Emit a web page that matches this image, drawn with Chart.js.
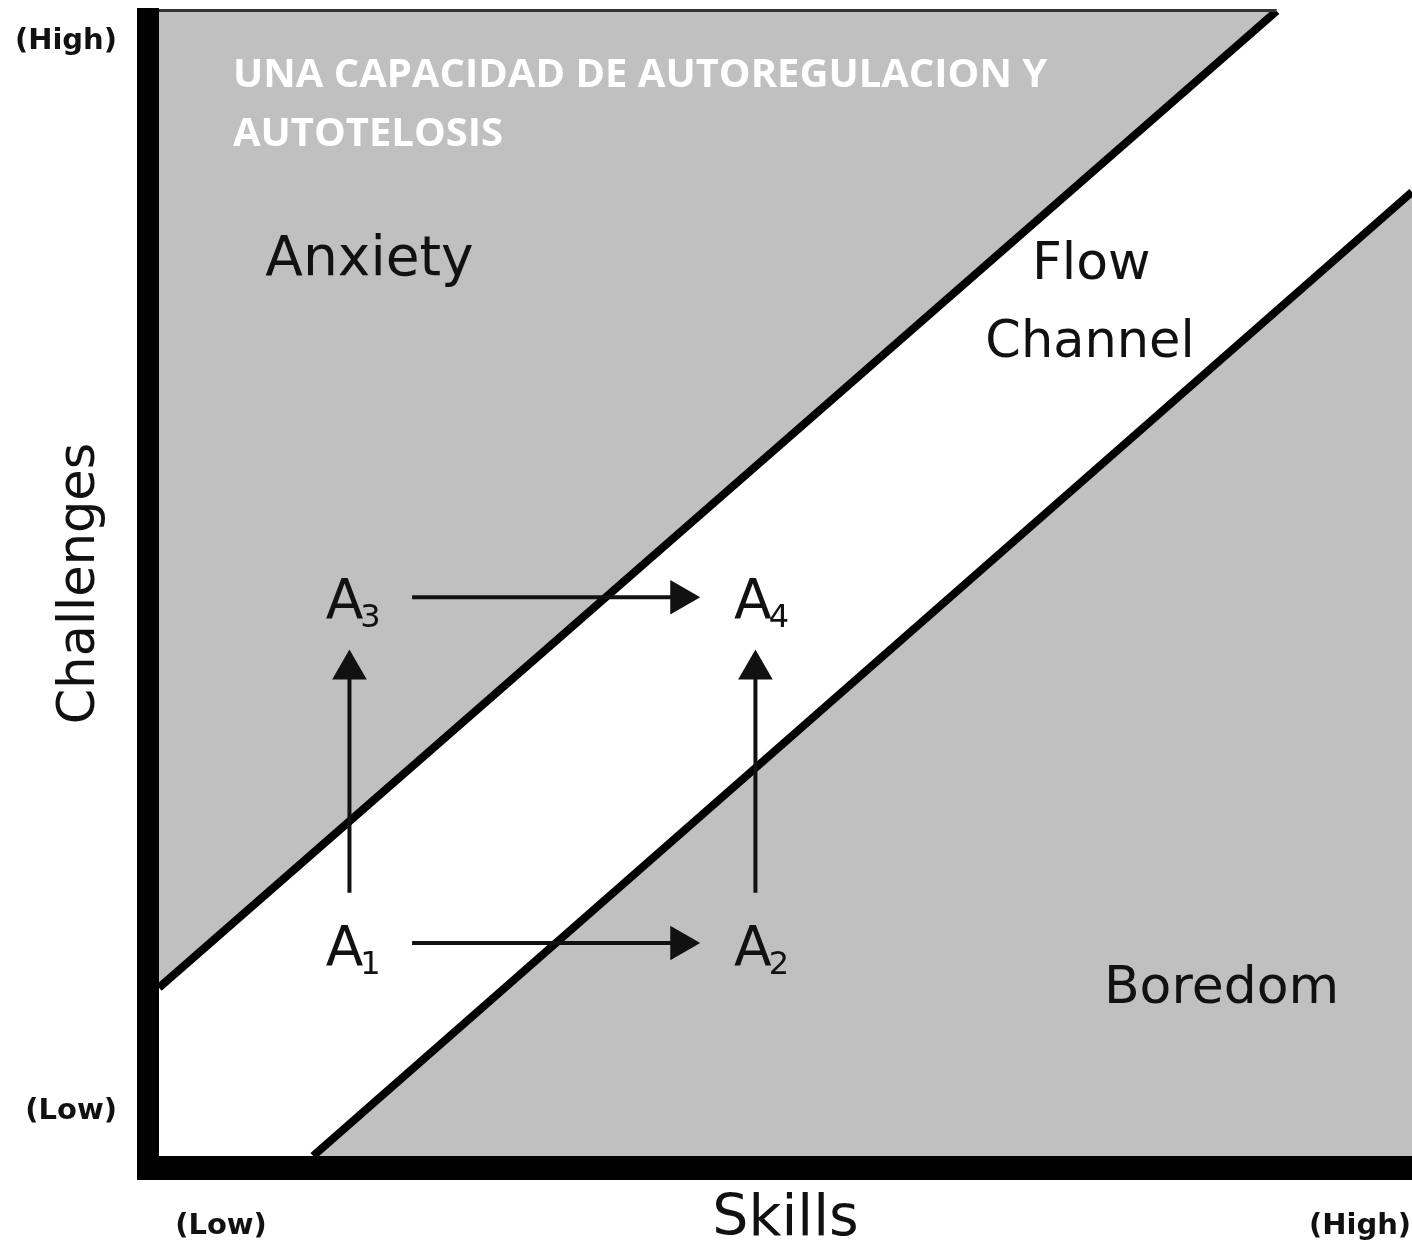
<!DOCTYPE html>
<html>
<head>
<meta charset="utf-8">
<script src="https://cdn.jsdelivr.net/npm/chart.js@4.4.1/dist/chart.umd.min.js"></script>
<style>
  html, body { margin: 0; padding: 0; background: #ffffff; overflow: hidden; }
  #wrap { width: 1412px; height: 1249px; position: relative; }
  canvas { display: block; }
</style>
</head>
<body>
<div id="wrap"><canvas id="flowChart"></canvas></div>
<script>
// Axis ranges (skills on x, challenges on y)
const skillsRange = [0, 100];
const challengesRange = [0, 100];

// Tick labels
const xTickValues = [4.95, 95.85];
const xTickLabels = ['(Low)', '(High)'];
const yTickValues = [3.85, 97.3];
const yTickLabels = ['(Low)', '(High)'];

// Flow channel boundaries
const upperBoundX = [0, 89.2];
const upperBoundY = [14.7, 100];
const lowerBoundX = [12.3, 100];
const lowerBoundY = [0, 84.2];

// Arrows A1->A2, A3->A4, A1->A3, A2->A4 (start and head point)
const arrowStartX = [20.2, 20.2, 15.2, 47.6];
const arrowStartY = [18.6, 48.8, 23.0, 23.0];
const arrowEndX = [41.6, 41.6, 15.2, 47.6];
const arrowEndY = [18.6, 48.8, 42.5, 42.5];
const arrowHeadRotation = [90, 90, 0, 0];

// State labels A1..A4
const stateNames = ['A', 'A', 'A', 'A'];
const stateSubs = ['1', '2', '3', '4'];
const stateX = [14.8, 47.4, 14.8, 47.4];
const stateY = [16.7, 16.7, 47.0, 47.0];

// Region labels
const regionLabels = ['Anxiety', 'Flow', 'Channel', 'Boredom'];
const regionX = [16.8, 74.4, 74.3, 84.8];
const regionY = [76.9, 76.6, 69.8, 13.4];
const regionFontSize = [55, 52, 51, 52];

// Heading
const titleLines = ['UNA CAPACIDAD DE AUTOREGULACION Y', 'AUTOTELOSIS'];
const titleX = [5.9, 5.9];
const titleY = [93.4, 88.2];

const GRAY = '#c0c0c0';
const INK = '#111111';

function makeArrowDatasets() {
    const sets = [];
    for (let i = 0; i < arrowStartX.length; i++) {
        sets.push({
            label: 'arrow' + i,
            order: 0,
            data: [
                { x: arrowStartX[i], y: arrowStartY[i] },
                { x: arrowEndX[i], y: arrowEndY[i] }
            ],
            showLine: true,
            borderColor: INK,
            borderWidth: 4,
            fill: false,
            pointRadius: [0, 20],
            pointStyle: 'triangle',
            pointRotation: [0, arrowHeadRotation[i]],
            pointBackgroundColor: INK,
            pointBorderColor: INK,
            pointBorderWidth: 0
        });
    }
    return sets;
}

// Draws the thick axis bars and all the text annotations
const diagramDecor = {
    id: 'diagramDecor',
    afterDatasetsDraw(chart) {
        const { ctx, chartArea, scales } = chart;
        const xs = scales.x;
        const ys = scales.y;
        ctx.save();

        // thin top edge over the gray zone
        const topEnd = xs.getPixelForValue(upperBoundX[upperBoundX.length - 1]);
        ctx.fillStyle = '#333333';
        ctx.fillRect(chartArea.left - 22, chartArea.top - 2, topEnd - chartArea.left + 22, 3);

        // thick axes
        ctx.fillStyle = '#000000';
        ctx.fillRect(chartArea.left - 22, chartArea.top - 3, 22, chartArea.bottom - chartArea.top + 27);
        ctx.fillRect(chartArea.left - 22, chartArea.bottom, chartArea.right - chartArea.left + 22, 24);

        // region labels
        ctx.fillStyle = INK;
        ctx.textAlign = 'center';
        ctx.textBaseline = 'alphabetic';
        for (let i = 0; i < regionLabels.length; i++) {
            ctx.font = regionFontSize[i] + 'px "DejaVu Sans"';
            ctx.fillText(regionLabels[i], xs.getPixelForValue(regionX[i]), ys.getPixelForValue(regionY[i]));
        }

        // state labels with subscripts
        for (let i = 0; i < stateNames.length; i++) {
            const px = xs.getPixelForValue(stateX[i]);
            const py = ys.getPixelForValue(stateY[i]);
            ctx.font = '55px "DejaVu Sans"';
            ctx.textAlign = 'center';
            ctx.fillText(stateNames[i], px, py);
            const w = ctx.measureText(stateNames[i]).width;
            ctx.font = '32px "DejaVu Sans"';
            ctx.textAlign = 'left';
            ctx.fillText(stateSubs[i], px + w / 2 - 3, py + 9);
        }

        // heading
        ctx.fillStyle = '#ffffff';
        ctx.font = 'bold 40px "Open Sans"';
        ctx.textAlign = 'left';
        for (let i = 0; i < titleLines.length; i++) {
            ctx.fillText(titleLines[i], xs.getPixelForValue(titleX[i]), ys.getPixelForValue(titleY[i]));
        }
        ctx.restore();
    }
};

function fixScaleSize(size, horizontal) {
    return function(scale) {
        if (horizontal) {
            scale.height = size;
        } else {
            scale.width = size;
        }
        scale.paddingLeft = 0;
        scale.paddingRight = 0;
        scale.paddingTop = 0;
        scale.paddingBottom = 0;
    };
}

const ctx = document.getElementById('flowChart').getContext('2d');
const chart = new Chart(ctx, {
    type: 'scatter',
    data: {
        datasets: [
            {
                label: 'upper',
                order: 1,
                data: upperBoundX.map((v, i) => ({ x: v, y: upperBoundY[i] })),
                showLine: true,
                borderColor: '#000000',
                borderWidth: 8,
                backgroundColor: GRAY,
                fill: 'end',
                pointRadius: 0
            },
            {
                label: 'lower',
                order: 1,
                data: lowerBoundX.map((v, i) => ({ x: v, y: lowerBoundY[i] })),
                showLine: true,
                borderColor: '#000000',
                borderWidth: 8,
                backgroundColor: GRAY,
                fill: 'start',
                pointRadius: 0
            },
            ...makeArrowDatasets()
        ]
    },
    options: {
        responsive: true,
        maintainAspectRatio: false,
        animation: false,
        events: [],
        layout: { autoPadding: false, padding: { top: 11, right: 0, bottom: 0, left: 0 } },
        plugins: {
            legend: { display: false },
            tooltip: { enabled: false }
        },
        scales: {
            x: {
                type: 'linear',
                min: skillsRange[0],
                max: skillsRange[1],
                grid: { display: false, drawTicks: false },
                border: { display: false },
                afterBuildTicks: function(scale) {
                    scale.ticks = xTickValues.map(v => ({ value: v }));
                },
                afterFit: fixScaleSize(93, true),
                ticks: {
                    autoSkip: false,
                    maxRotation: 0,
                    padding: 53,
                    color: INK,
                    font: { family: 'DejaVu Sans', size: 29, weight: 'bold' },
                    callback: function(value, index) {
                        return xTickLabels[index];
                    }
                },
                title: {
                    display: true,
                    text: 'Skills',
                    color: INK,
                    font: { family: 'DejaVu Sans', size: 57, lineHeight: 1 },
                    padding: { top: 0, bottom: 0 }
                }
            },
            y: {
                type: 'linear',
                min: challengesRange[0],
                max: challengesRange[1],
                grid: { display: false, drawTicks: false },
                border: { display: false },
                afterBuildTicks: function(scale) {
                    scale.ticks = yTickValues.map(v => ({ value: v }));
                },
                afterFit: fixScaleSize(159, false),
                ticks: {
                    autoSkip: false,
                    padding: 42,
                    color: INK,
                    font: { family: 'DejaVu Sans', size: 29, weight: 'bold' },
                    callback: function(value, index) {
                        return yTickLabels[index];
                    }
                },
                title: {
                    display: true,
                    text: 'Challenges',
                    color: INK,
                    font: { family: 'DejaVu Sans', size: 51, lineHeight: 1 },
                    padding: { top: 55, bottom: 0 }
                }
            }
        }
    },
    plugins: [diagramDecor]
});
</script>
</body>
</html>
